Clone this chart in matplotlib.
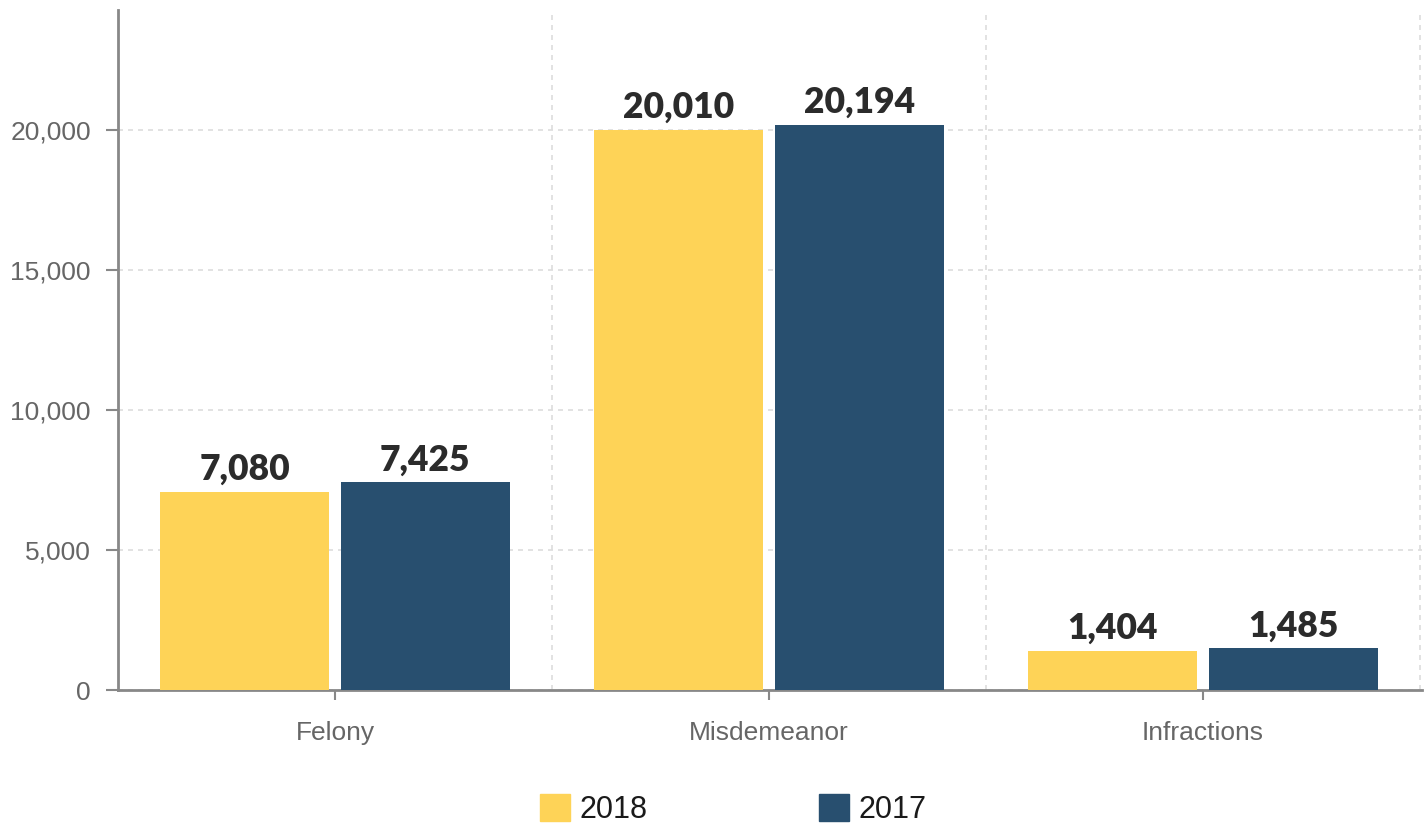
import numpy as np
import matplotlib.pyplot as plt
from matplotlib.patches import Patch

categories = ['Felony', 'Misdemeanor', 'Infractions']
series_names = ['2018', '2017']
values_2018 = [7080, 20010, 1404]
values_2017 = [7425, 20194, 1485]
colors = ['#fed357', '#284f6f']
yticks = [0, 5000, 10000, 15000, 20000]

fig = plt.figure(figsize=(14.27, 8.25), dpi=100)
ax = fig.add_axes([118/1427, 1-690/825, (1422-118)/1427, (690-10)/825])

x = np.arange(len(categories))
w = 0.389
off = 0.208
for vals, c, d in [(values_2018, colors[0], -off), (values_2017, colors[1], off)]:
    bars = ax.bar(x + d, vals, width=w, color=c, zorder=3)
    for b, v in zip(bars, vals):
        ax.annotate('{:,}'.format(v), (b.get_x() + b.get_width()/2, v),
                    xytext=(0, 4), textcoords='offset points',
                    ha='center', va='bottom', fontsize=25.5, fontweight='heavy',
                    color='#2b2b2b', family=['Lato', 'DejaVu Sans'], zorder=4)

ax.set_xlim(-0.5, 2.505)
ax.set_ylim(0, 24286)
ax.set_yticks(yticks)
ax.set_yticklabels(['{:,}'.format(t) for t in yticks], family='Liberation Sans',
                   fontsize=19, color='#666666')
ax.set_xticks(x)
ax.set_xticklabels(categories, family='Liberation Sans', fontsize=19, color='#666666')
ax.set_xticks([0.5, 1.5, 2.5], minor=True)
ax.tick_params(axis='x', which='minor', length=0)
ax.tick_params(axis='y', which='major', length=8.6, width=1.5, color='#888888', pad=11)
ax.tick_params(axis='x', which='major', length=7.5, width=1.5, color='#888888', pad=15)

ax.grid(axis='y', which='major', color='#dddddd', linestyle=(0, (3, 3)), linewidth=1.2, zorder=0)
ax.grid(axis='x', which='minor', color='#dddddd', linestyle=(0, (3, 3)), linewidth=1.2, zorder=0)

for s in ['top', 'right']:
    ax.spines[s].set_visible(False)
for s in ['left', 'bottom']:
    ax.spines[s].set_color('#888888')
    ax.spines[s].set_linewidth(2)

handles = [Patch(color=c) for c in colors]
fig.legend(handles, series_names, loc='lower center', bbox_to_anchor=(733/1427, -0.033),
           ncol=2, frameon=False, prop={'family': 'Liberation Sans', 'size': 22},
           labelcolor='#1a1a1a',
           handlelength=1.0, handleheight=1.0, handletextpad=0.3, columnspacing=5.6)

fig.savefig('out.png', dpi=100)
